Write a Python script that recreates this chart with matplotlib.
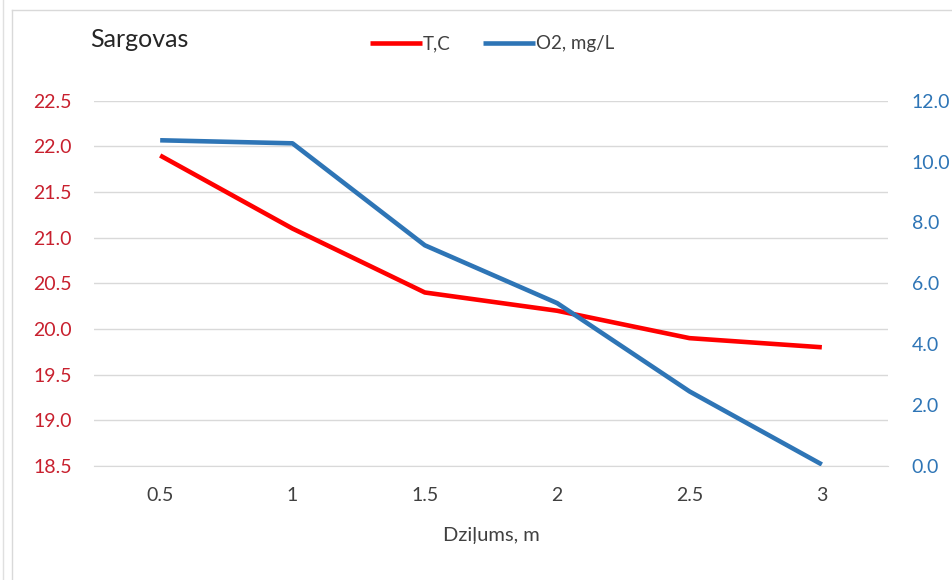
import matplotlib.pyplot as plt
from matplotlib.lines import Line2D

depth = ['0.5', '1', '1.5', '2', '2.5', '3']
temp = [21.9, 21.1, 20.4, 20.2, 19.9, 19.8]
oxygen = [10.7, 10.6, 7.25, 5.35, 2.45, 0.05]

plt.rcParams['font.family'] = ['Lato', 'DejaVu Sans']

W, H = 952, 580
fig = plt.figure(figsize=(W / 100, H / 100), dpi=100)
ax = fig.add_axes([94 / W, 1 - 466 / H, (888 - 94) / W, (466 - 100.7) / H])
ax2 = ax.twinx()

x = list(range(len(depth)))
l1, = ax.plot(x, temp, color='#FF0000', lw=3.3, label='T,C', solid_capstyle='butt', zorder=3)
l2, = ax2.plot(x, oxygen, color='#2E75B6', lw=3.3, label='O2, mg/L', solid_capstyle='butt', zorder=3)

ax.set_xlim(-0.5, 5.5)
ax.set_ylim(18.5, 22.5)
ax2.set_ylim(0, 12)
ax.set_yticks([18.5 + 0.5 * i for i in range(9)])
ax.set_yticklabels(['%.1f' % (18.5 + 0.5 * i) for i in range(9)])
ax2.set_yticks([0, 2, 4, 6, 8, 10, 12])
ax2.set_yticklabels(['0.0', '2.0', '4.0', '6.0', '8.0', '10.0', '12.0'])
ax.set_xticks(x)
ax.set_xticklabels(depth)

ax.grid(axis='y', color='#D9D9D9', lw=1)
ax.set_axisbelow(True)
for a in (ax, ax2):
    for s in a.spines.values():
        s.set_visible(False)
ax.spines['bottom'].set_visible(True)
ax.spines['bottom'].set_color('#D9D9D9')

ax.tick_params(axis='y', length=0, pad=16, labelsize=14, labelcolor='#C8202E')
ax2.tick_params(axis='y', length=0, pad=17, labelsize=14, labelcolor='#2E75B6')
ax.tick_params(axis='x', length=0, pad=15, labelsize=14, labelcolor='#404040')
ax.set_xlabel('Dziļums, m', fontsize=14.5, color='#404040', labelpad=17)

fig.text(90 / W, 1 - 47 / H, 'Sargovas', fontsize=18, color='#262626', va='baseline', ha='left')
fig.legend(handles=[l1, l2], loc='center', bbox_to_anchor=(492 / W, 1 - 44 / H),
           ncol=2, frameon=False, fontsize=13.5, handlelength=2.8, handletextpad=0.05,
           columnspacing=1.7, labelcolor='#404040')

# chart border
fig.add_artist(Line2D([12 / W, 1], [1 - 10 / H, 1 - 10 / H], color='#D9D9D9', lw=1))
fig.add_artist(Line2D([12 / W, 12 / W], [0, 1 - 10 / H], color='#D9D9D9', lw=1))
fig.add_artist(Line2D([3 / W, 3 / W], [0, 1], color='#E0E0E0', lw=1))

fig.savefig('out.png', dpi=100)
